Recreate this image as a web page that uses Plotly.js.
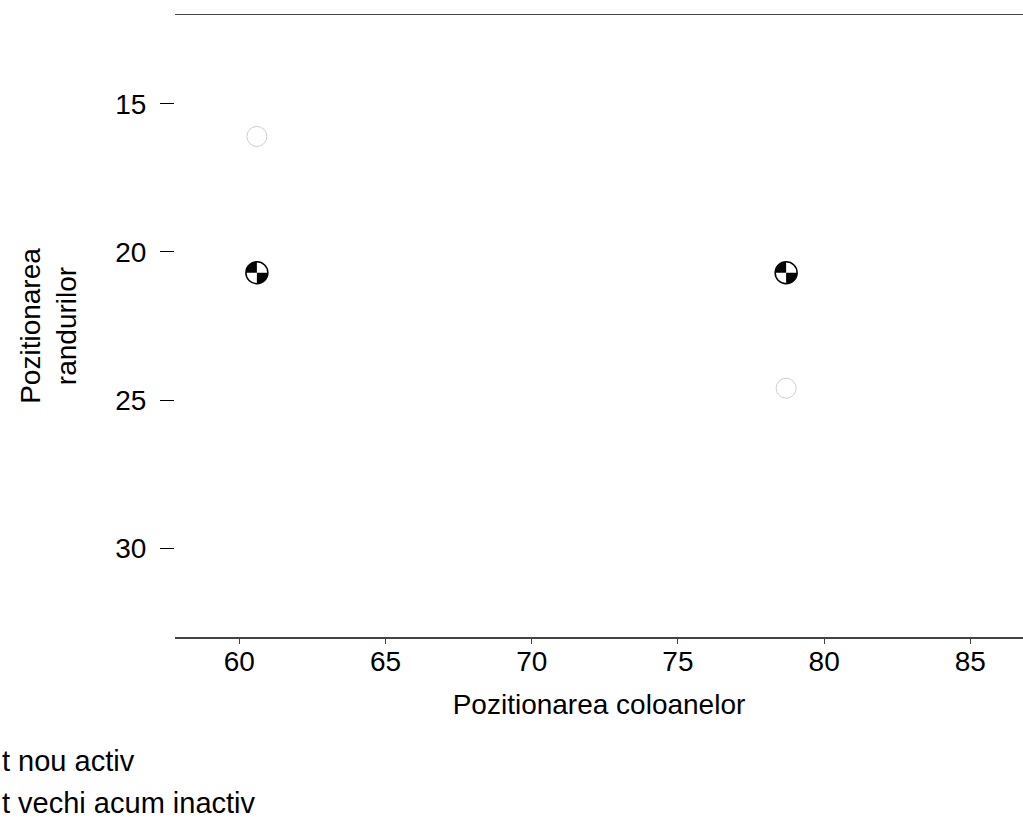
<!DOCTYPE html>
<html>
<head>
<meta charset="utf-8">
<script src="https://cdn.plot.ly/plotly-3.0.1.min.js"></script>
<style>html,body{margin:0;padding:0;background:#fff;}#chart{width:1023px;height:823px;}</style>
</head>
<body>
<div id="chart"></div>
<script>
// Data
const activeX = [60.6, 78.7];
const activeY = [20.7, 20.7];
const inactiveX = [60.6, 78.7];
const inactiveY = [16.1, 24.6];
const activeLabel = "t nou activ";
const inactiveLabel = "t vechi acum inactiv";
const xTickVals = [60, 65, 70, 75, 80, 85];
const yTickVals = [15, 20, 25, 30];
const xTitle = "Pozitionarea coloanelor";
const yTitle = "Pozitionarea<br>randurilor";

const FONT = "Liberation Sans, Arial, Helvetica, sans-serif";
const R = 11, C = 0.5523 * R;

// quartered-circle symbols: black wedges in two opposite quadrants
const shapes = [];
activeX.forEach((x, i) => {
  const y = activeY[i];
  const base = {type: 'path', xref: 'x', yref: 'y', xsizemode: 'pixel', ysizemode: 'pixel',
                xanchor: x, yanchor: y, layer: 'above'};
  shapes.push(Object.assign({}, base, {
    path: `M0,0 L${-R},0 C${-R},${C} ${-C},${R} 0,${R} Z`,
    fillcolor: '#000', line: {width: 0}
  }));
  shapes.push(Object.assign({}, base, {
    path: `M0,0 L${R},0 C${R},${-C} ${C},${-R} 0,${-R} Z`,
    fillcolor: '#000', line: {width: 0}
  }));
});

const traces = [
  {x: inactiveX, y: inactiveY, name: inactiveLabel, mode: 'markers', type: 'scatter',
   marker: {symbol: 'circle-open', size: 20, color: '#cfcfcf', line: {width: 1, color: '#cfcfcf'}},
   showlegend: false},
  {x: activeX, y: activeY, name: activeLabel, mode: 'markers', type: 'scatter',
   marker: {symbol: 'circle', size: 22, color: '#fff', line: {width: 1.5, color: '#000'}},
   showlegend: false}
];

const layout = {
  width: 1023, height: 823,
  margin: {l: 175, r: 0, t: 15, b: 186},
  paper_bgcolor: '#fff', plot_bgcolor: '#fff',
  font: {family: FONT, size: 28, color: '#000'},
  showlegend: false,
  xaxis: {
    range: [57.8, 86.8], tickvals: xTickVals, ticktext: xTickVals.map(String),
    showgrid: false, zeroline: false,
    showline: true, mirror: true, linecolor: '#444', linewidth: 1.5,
    ticks: 'outside', ticklen: 5, tickcolor: '#444', tickwidth: 1,
    ticklabelstandoff: -6,
    tickfont: {family: FONT, size: 28, color: '#000'},
    title: {text: xTitle, font: {family: FONT, size: 28, color: '#000'}, standoff: 18}
  },
  yaxis: {
    range: [33, 12], tickvals: yTickVals, ticktext: yTickVals.map(String),
    showgrid: false, zeroline: false, showline: false,
    ticks: 'outside', ticklen: 14, tickcolor: '#000', tickwidth: 1,
    ticklabelstandoff: 8,
    tickfont: {family: FONT, size: 28, color: '#000'},
    title: {text: yTitle, font: {family: FONT, size: 28, color: '#000'}, standoff: 30}
  },
  shapes: shapes,
  annotations: [
    {xref: 'paper', yref: 'paper', x: (0 - 175) / 848, y: -(761 - 637) / 622,
     xanchor: 'left', yanchor: 'middle', showarrow: false, text: activeLabel,
     font: {family: FONT, size: 29, color: '#000'}},
    {xref: 'paper', yref: 'paper', x: (0 - 175) / 848, y: -(803 - 637) / 622,
     xanchor: 'left', yanchor: 'middle', showarrow: false, text: inactiveLabel,
     font: {family: FONT, size: 29, color: '#000'}}
  ]
};

Plotly.newPlot('chart', traces, layout, {displayModeBar: false, staticPlot: true});
</script>
</body>
</html>
